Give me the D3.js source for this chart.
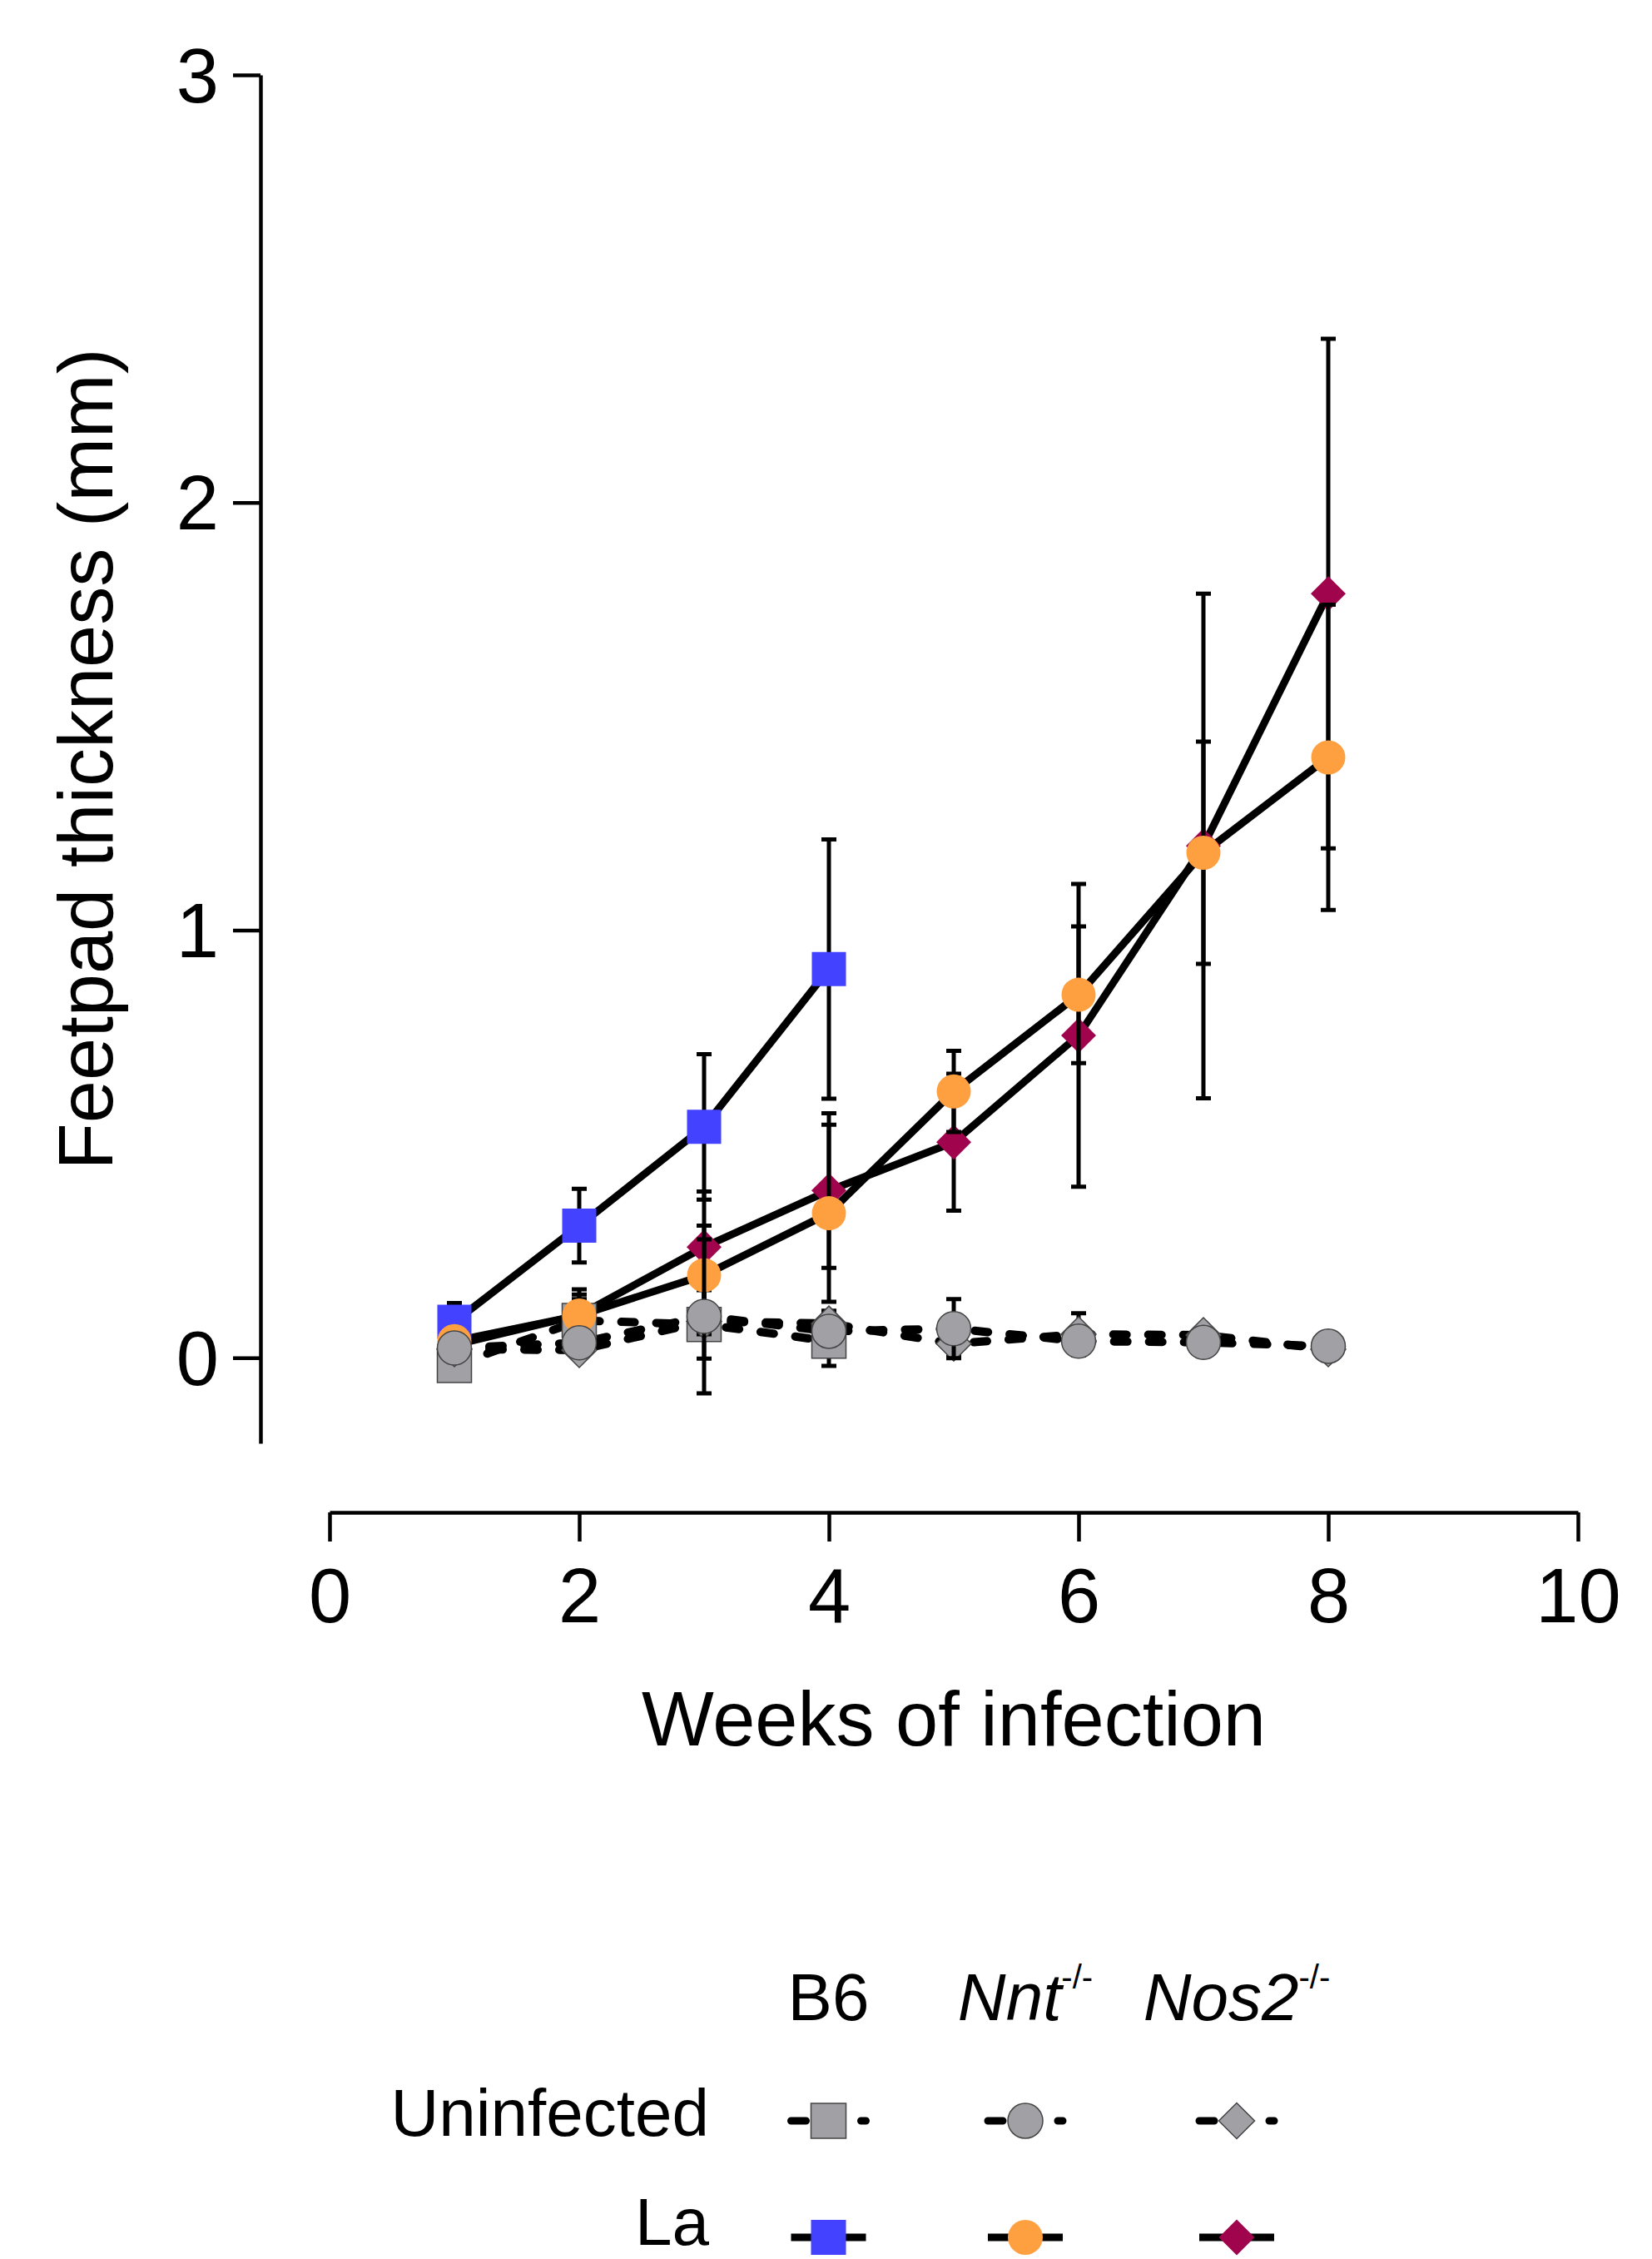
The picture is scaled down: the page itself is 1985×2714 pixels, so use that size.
<!DOCTYPE html>
<html>
<head>
<meta charset="utf-8">
<script src="https://cdn.jsdelivr.net/npm/d3@7"></script>
<style>
body { margin: 0; background: #fff; }
text { font-family: "Liberation Sans", Arial, sans-serif; fill: #000; }
</style>
</head>
<body>
<div id="chart"></div>
<script>
// weeks of infection
var weeks = [1, 2, 3, 4, 5, 6, 7, 8];

// mean feetpad thickness (mm) and SD
var b6Uninf = [-0.018, 0.087, 0.078, 0.039];
var b6UninfSd = [0.02, 0.05, 0.08, 0.058];
var nntUninf = [0.023, 0.035, 0.097, 0.062, 0.068, 0.039, 0.036, 0.027];
var nntUninfSd = [0.02, 0.03, 0.18, 0.03, 0.069, 0.03, 0.02, 0.02];
var nos2Uninf = [0.02, 0.018, 0.085, 0.08, 0.033, 0.055, 0.053, 0.02];
var nos2UninfSd = [0.02, 0.02, 0.03, 0.03, 0.03, 0.049, 0.02, 0.02];
var b6La = [0.084, 0.309, 0.54, 0.909];
var b6LaSd = [0.044, 0.086, 0.17, 0.303];
var nntLa = [0.039, 0.099, 0.193, 0.338, 0.623, 0.849, 1.181, 1.404];
var nntLaSd = [0.02, 0.061, 0.116, 0.207, 0.095, 0.16, 0.26, 0.357];
var nos2La = [0.03, 0.10, 0.259, 0.391, 0.504, 0.754, 1.197, 1.787];
var nos2LaSd = [0.02, 0.048, 0.13, 0.181, 0.16, 0.354, 0.59, 0.596];

var xTicks = [0, 2, 4, 6, 8, 10];
var yTicks = [0, 1, 2, 3];
var strains = ["B6", "Nnt", "Nos2"];
var groups = ["Uninfected", "La"];

var grey = "#a0a0a5";
var width = 1985, height = 2714;

var diamond = {
	draw: function(ctx, size) {
		var r = Math.sqrt(size) / 2;
		ctx.moveTo(0, -r);
		ctx.lineTo(r, 0);
		ctx.lineTo(0, r);
		ctx.lineTo(-r, 0);
		ctx.closePath();
	}
};
var shapes = {
	square: { type: d3.symbolSquare, size: 41 * 41 },
	circle: { type: d3.symbolCircle, size: Math.PI * 20.5 * 20.5 },
	diamond: { type: diamond, size: 42 * 42 }
};

// drawing order matters: later series sit on top
var series = [
	{ mean: b6Uninf, sd: b6UninfSd, shape: "square", fill: grey, dashed: true },
	{ mean: b6La, sd: b6LaSd, shape: "square", fill: "#4343ff", dashed: false },
	{ mean: nos2Uninf, sd: nos2UninfSd, shape: "diamond", fill: grey, dashed: true },
	{ mean: nos2La, sd: nos2LaSd, shape: "diamond", fill: "#a0044c", dashed: false },
	{ mean: nntLa, sd: nntLaSd, shape: "circle", fill: "#ffa040", dashed: false },
	{ mean: nntUninf, sd: nntUninfSd, shape: "circle", fill: grey, dashed: true }
];
series.forEach(function(s) {
	s.points = s.mean.map(function(m, i) { return { w: weeks[i], m: m, e: s.sd[i] }; });
});

var svg = d3.select("#chart")
	.append("svg")
	.attr("width", width)
	.attr("height", height);

var x = d3.scaleLinear().domain([0, 10]).range([396, 1896]);
var y = d3.scaleLinear().domain([-0.2, 3]).range([1734, 90]);

// axes
var yAxis = svg.append("g")
	.attr("transform", "translate(313,0)")
	.call(d3.axisLeft(y).tickValues(yTicks).tickSize(33).tickSizeOuter(0).tickPadding(17).tickFormat(d3.format("d")));
var xAxis = svg.append("g")
	.attr("transform", "translate(0,1817)")
	.call(d3.axisBottom(x).tickValues(xTicks).tickSize(35).tickSizeOuter(0).tickPadding(32).tickFormat(d3.format("d")));
[xAxis, yAxis].forEach(function(a) {
	a.selectAll("path, line").attr("stroke", "#000").attr("stroke-width", 4.5);
	a.selectAll("text").style("font-size", "92px").attr("font-family", null);
});
yAxis.selectAll("text").attr("dy", "0.35em");

svg.append("text")
	.attr("transform", "translate(135,912) rotate(-90)")
	.attr("text-anchor", "middle")
	.style("font-size", "92px")
	.text("Feetpad thickness (mm)");
svg.append("text")
	.attr("x", 1146)
	.attr("y", 2097)
	.attr("text-anchor", "middle")
	.style("font-size", "92px")
	.text("Weeks of infection");

// lines
var line = d3.line()
	.x(function(d) { return x(d.w); })
	.y(function(d) { return y(d.m); });

svg.append("g").selectAll("path")
	.data(series)
	.enter()
	.append("path")
	.attr("d", function(s) { return line(s.points); })
	.attr("fill", "none")
	.attr("stroke", "#000")
	.attr("stroke-width", function(s) { return s.dashed ? 10 : 9; })
	.attr("stroke-linecap", function(s) { return s.dashed ? "round" : "butt"; })
	.attr("stroke-linejoin", "round")
	.attr("stroke-dasharray", function(s) { return s.dashed ? "16 26" : null; });

// error bars + symbols, one series at a time
var cap = 9;
series.forEach(function(s) {
	var g = svg.append("g");
	g.selectAll("path.err")
		.data(s.points)
		.enter()
		.append("path")
		.attr("class", "err")
		.attr("d", function(d) {
			var cx = x(d.w), y1 = y(d.m + d.e), y2 = y(d.m - d.e);
			return "M" + (cx - cap) + "," + y1 + "H" + (cx + cap) +
				"M" + cx + "," + y1 + "V" + y2 +
				"M" + (cx - cap) + "," + y2 + "H" + (cx + cap);
		})
		.attr("fill", "none")
		.attr("stroke", "#000")
		.attr("stroke-width", 5);
	g.selectAll("path.sym")
		.data(s.points)
		.enter()
		.append("path")
		.attr("class", "sym")
		.attr("transform", function(d) { return "translate(" + x(d.w) + "," + y(d.m) + ")"; })
		.attr("d", d3.symbol().type(shapes[s.shape].type).size(shapes[s.shape].size))
		.attr("fill", s.fill)
		.attr("stroke", s.dashed ? "#444" : "none")
		.attr("stroke-width", 1.5);
});

// legend
var colX = [995.5, 1232, 1486];
var rowY = [2548, 2688];
var legend = svg.append("g");

strains.forEach(function(name, i) {
	var t = legend.append("text")
		.attr("x", colX[i])
		.attr("y", 2427)
		.attr("text-anchor", "middle")
		.style("font-size", "80px");
	if (i === 0) {
		t.text(name);
	} else {
		t.append("tspan").style("font-style", "italic").text(name);
		t.append("tspan").attr("dy", -38).style("font-size", "40px").text("-/-");
	}
});
groups.forEach(function(name, j) {
	// last row sits at the page edge, keep its text box inside
	legend.append("text")
		.attr("x", 852)
		.attr("y", Math.min(rowY[j] + 18, height - 17))
		.attr("text-anchor", "end")
		.style("font-size", "80px")
		.text(name);
});

var legendSeries = [[series[0], series[5], series[2]], [series[1], series[4], series[3]]];
legendSeries.forEach(function(row, j) {
	row.forEach(function(s, i) {
		var cx = colX[i], cy = rowY[j];
		legend.append("path")
			.attr("d", "M" + (cx - 45) + "," + cy + "H" + (cx + 45))
			.attr("stroke", "#000")
			.attr("stroke-width", 9)
			.attr("stroke-linecap", s.dashed ? "round" : "butt")
			.attr("stroke-dasharray", s.dashed ? "18 24" : null);
		legend.append("path")
			.attr("transform", "translate(" + cx + "," + cy + ")")
			.attr("d", d3.symbol().type(shapes[s.shape].type).size(shapes[s.shape].size * 1.05))
			.attr("fill", s.fill)
			.attr("stroke", s.dashed ? "#444" : "none")
			.attr("stroke-width", 1.5);
	});
});
</script>
</body>
</html>
